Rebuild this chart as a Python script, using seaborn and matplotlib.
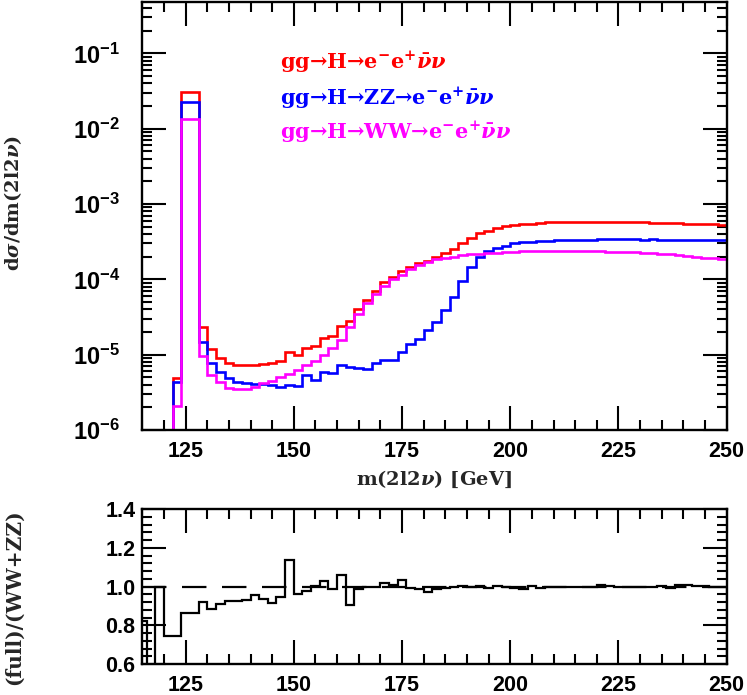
import numpy as np
import matplotlib
matplotlib.use("Agg")
import matplotlib.pyplot as plt
import seaborn as sns
from matplotlib.ticker import MultipleLocator, LogLocator, FuncFormatter, NullFormatter

# binned m(2l2nu) distributions, 2 GeV bins from 122 to 250 GeV
mass_edges = np.arange(122, 251, 2)

full = [4.9e-6, 3.1e-2, 3.1e-2, 2.3e-5, 1.18e-5, 9.0e-6, 7.7e-6, 7.3e-6, 7.3e-6, 7.4e-6,
        7.5e-6, 7.8e-6, 8.2e-6, 1.08e-5, 9.9e-6, 1.24e-5, 1.3e-5, 1.65e-5, 1.78e-5, 2.4e-5,
        2.8e-5, 4.0e-5, 5.3e-5, 7.1e-5, 9.1e-5, 1.07e-4, 1.28e-4, 1.45e-4, 1.64e-4, 1.77e-4,
        2.0e-4, 2.22e-4, 2.5e-4, 3.0e-4, 3.5e-4, 4.1e-4, 4.4e-4, 4.86e-4, 5.1e-4, 5.3e-4,
        5.4e-4, 5.5e-4, 5.65e-4, 5.7e-4, 5.75e-4, 5.8e-4, 5.8e-4, 5.85e-4, 5.8e-4, 5.85e-4,
        5.8e-4, 5.8e-4, 5.75e-4, 5.7e-4, 5.7e-4, 5.65e-4, 5.6e-4, 5.6e-4, 5.55e-4, 5.5e-4,
        5.45e-4, 5.4e-4, 5.35e-4, 5.3e-4]

zz = [4.4e-6, 2.27e-2, 2.27e-2, 1.49e-5, 7.8e-6, 5.9e-6, 4.9e-6, 4.4e-6, 4.2e-6, 4.1e-6,
      4.1e-6, 4.0e-6, 3.7e-6, 3.9e-6, 3.85e-6, 5.4e-6, 4.6e-6, 5.9e-6, 5.65e-6, 7.3e-6,
      6.9e-6, 6.7e-6, 6.45e-6, 7.8e-6, 8.5e-6, 8.5e-6, 1.07e-5, 1.38e-5, 1.62e-5, 2.13e-5,
      2.7e-5, 3.9e-5, 5.8e-5, 9.6e-5, 1.48e-4, 2.0e-4, 2.38e-4, 2.6e-4, 2.8e-4, 3.0e-4,
      3.1e-4, 3.16e-4, 3.2e-4, 3.25e-4, 3.3e-4, 3.32e-4, 3.35e-4, 3.38e-4, 3.36e-4, 3.4e-4,
      3.4e-4, 3.42e-4, 3.4e-4, 3.4e-4, 3.38e-4, 3.4e-4, 3.38e-4, 3.36e-4, 3.35e-4, 3.35e-4,
      3.33e-4, 3.32e-4, 3.3e-4, 3.3e-4]

ww = [2.1e-6, 1.36e-2, 1.36e-2, 9.7e-6, 5.4e-6, 4.3e-6, 3.6e-6, 3.55e-6, 3.55e-6, 3.75e-6,
      4.15e-6, 4.5e-6, 5.1e-6, 5.5e-6, 6.3e-6, 7.3e-6, 8.3e-6, 9.9e-6, 1.22e-5, 1.57e-5,
      2.35e-5, 3.5e-5, 4.8e-5, 6.4e-5, 8.2e-5, 1.01e-4, 1.16e-4, 1.38e-4, 1.55e-4, 1.72e-4,
      1.85e-4, 1.95e-4, 2.0e-4, 2.1e-4, 2.15e-4, 2.2e-4, 2.25e-4, 2.27e-4, 2.3e-4, 2.33e-4,
      2.35e-4, 2.37e-4, 2.37e-4, 2.37e-4, 2.37e-4, 2.37e-4, 2.36e-4, 2.36e-4, 2.35e-4, 2.35e-4,
      2.34e-4, 2.33e-4, 2.32e-4, 2.3e-4, 2.27e-4, 2.24e-4, 2.2e-4, 2.15e-4, 2.1e-4, 2.05e-4,
      2.0e-4, 1.95e-4, 1.9e-4, 1.85e-4]

# ratio full/(WW+ZZ), 2 GeV bins from 114 to 250 GeV
ratio_edges = np.arange(114, 251, 2)
ratio = [0.82, 0.30, 1.00, 0.745, 0.745, 0.865, 0.865, 0.918, 0.884, 0.91,
         0.927, 0.927, 0.93, 0.956, 0.934, 0.913, 0.944, 1.137, 0.96, 0.977,
         1.003, 1.028, 0.985, 1.06, 0.905, 0.985, 1.0, 0.995, 1.016, 1.01,
         1.034, 0.99, 0.985, 0.972, 0.987, 0.99, 1.0, 1.002, 0.998, 1.005,
         0.99, 1.003, 0.997, 0.993, 0.985, 1.005, 0.99, 0.998, 0.995, 0.997,
         0.996, 0.998, 0.999, 1.006, 1.004, 0.996, 0.997, 0.995, 0.997, 0.996,
         1.002, 0.99, 1.008, 1.01, 1.004, 1.002, 0.996, 0.998]

labels = [r"gg→H→e$^{-}$e$^{+}\bar{\nu}\nu$",
          r"gg→H→ZZ→e$^{-}$e$^{+}\bar{\nu}\nu$",
          r"gg→H→WW→e$^{-}$e$^{+}\bar{\nu}\nu$"]
colors = ["#ff0000", "#0000ff", "#ff00ff"]

sns.set_theme(style="ticks")
plt.rcParams.update({
    "font.family": ["DejaVu Serif"],
    "font.weight": "bold",
    "mathtext.fontset": "custom",
    "mathtext.rm": "DejaVu Serif:bold",
    "mathtext.it": "DejaVu Serif:italic:bold",
    "mathtext.bf": "Liberation Sans:bold",
    "axes.linewidth": 1.7,
    "axes.edgecolor": "black",
})

fig = plt.figure(figsize=(7.47, 6.95), dpi=100)
ax = fig.add_axes([0.1905, 0.3813, 0.7823, 0.6157])
axr = fig.add_axes([0.1905, 0.0446, 0.7823, 0.2230])

for vals, col in zip([full, zz, ww], colors):
    ax.stairs(vals, mass_edges, baseline=1e-9, color=col, linewidth=1.9)

ax.set_yscale("log")
ax.set_xlim(115, 250)
ax.set_ylim(1e-6, 0.48)

for lab, col, yy in zip(labels, colors, [0.86, 0.776, 0.696]):
    ax.text(0.236, yy, lab, color=col, transform=ax.transAxes, fontsize=15,
            fontweight="bold", va="center", ha="left")

ax.set_xlabel(r"m(2l2$\nu$) [GeV]", fontsize=14, fontweight="bold", labelpad=5)
ax.set_ylabel(r"d$\sigma$/dm(2l2$\nu$)", fontsize=14, fontweight="bold")
ax.yaxis.set_label_coords(-0.202, 0.53)

# ratio panel
axr.stairs(ratio, ratio_edges, color="black", linewidth=1.6)
axr.axhline(1.0, color="black", linewidth=1.6, dashes=(11, 7))
axr.set_xlim(115, 250)
axr.set_ylim(0.6, 1.4)
axr.set_ylabel("(full)/(WW+ZZ)", fontsize=14.5, fontweight="bold")
axr.yaxis.set_label_coords(-0.202, 0.43)

sans_bold = {"family": "Liberation Sans", "weight": "bold", "size": 15.5}

def log_fmt(v, pos):
    return r"$\mathbf{10^{%d}}$" % int(round(np.log10(v)))

for a in (ax, axr):
    a.xaxis.set_major_locator(MultipleLocator(25))
    a.xaxis.set_minor_locator(MultipleLocator(5))
    a.tick_params(which="both", direction="in", top=True, right=True, width=1.5,
                  colors="black")
    a.tick_params(which="major", length=17)
    a.tick_params(which="minor", length=7)
    a.tick_params(axis="x", pad=8)
    for lbl in a.get_xticklabels():
        lbl.set_fontproperties(sans_bold)

ax.yaxis.set_major_locator(LogLocator(base=10, numticks=10))
ax.yaxis.set_minor_locator(LogLocator(base=10, subs=np.arange(2, 10), numticks=20))
ax.yaxis.set_major_formatter(FuncFormatter(log_fmt))
ax.yaxis.set_minor_formatter(NullFormatter())
ax.tick_params(axis="y", labelsize=17, pad=16)

axr.yaxis.set_major_locator(MultipleLocator(0.2))
axr.yaxis.set_minor_locator(MultipleLocator(0.04))
axr.yaxis.set_major_formatter(FuncFormatter(lambda v, p: "%.1f" % v))
axr.tick_params(axis="y", pad=5)
for lbl in axr.get_yticklabels():
    lbl.set_fontproperties(sans_bold)

fig.savefig("out.png", dpi=100)
